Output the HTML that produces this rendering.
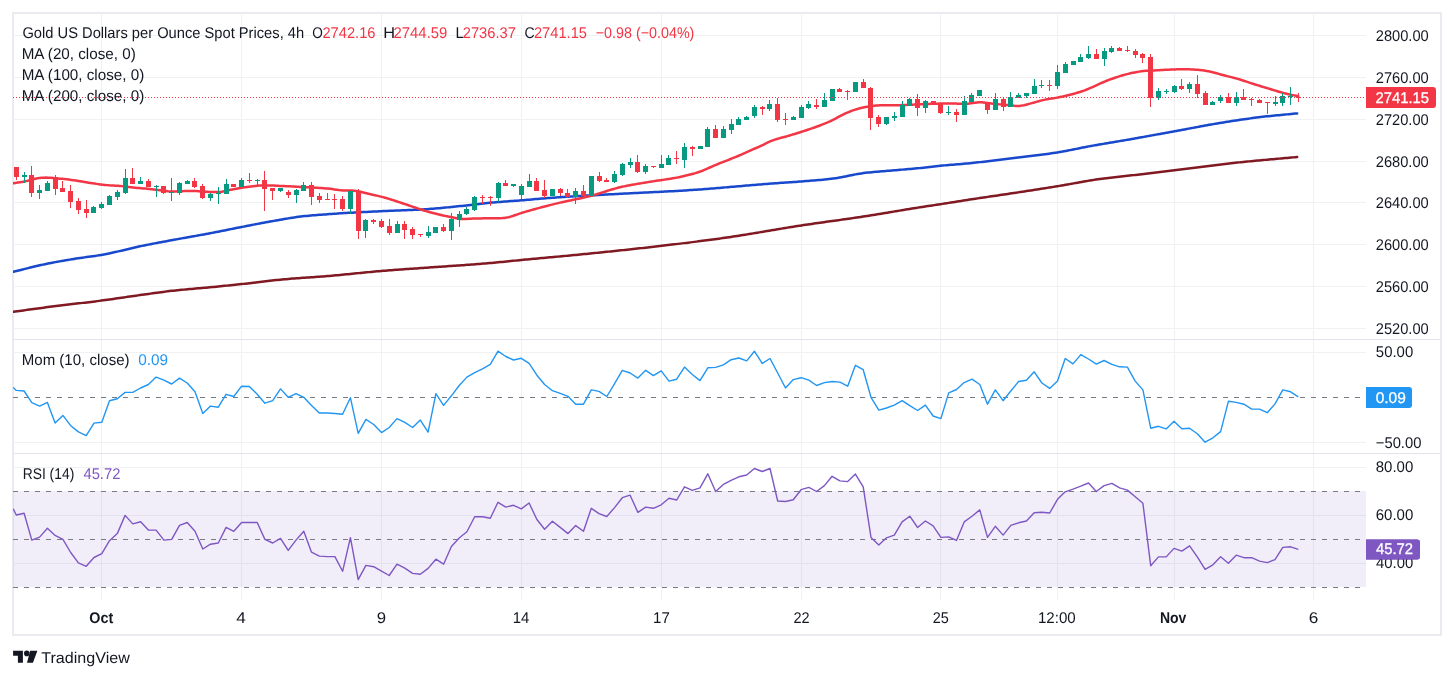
<!DOCTYPE html><html><head><meta charset="utf-8"><style>html,body{margin:0;padding:0;background:#fff;}svg{display:block;will-change:transform;}text{font-family:"Liberation Sans",sans-serif;text-rendering:geometricPrecision;}</style></head><body><svg width="1454" height="679" viewBox="0 0 1454 679"><rect x="0" y="0" width="1454" height="679" fill="#ffffff"/><rect x="13" y="13" width="1428" height="622" fill="none" stroke="#e9ebf0" stroke-width="2"/><g shape-rendering="crispEdges"><rect x="13" y="35" width="1353" height="1" fill="#eff1f3"/><rect x="13" y="77" width="1353" height="1" fill="#eff1f3"/><rect x="13" y="119" width="1353" height="1" fill="#eff1f3"/><rect x="13" y="161" width="1353" height="1" fill="#eff1f3"/><rect x="13" y="202" width="1353" height="1" fill="#eff1f3"/><rect x="13" y="244" width="1353" height="1" fill="#eff1f3"/><rect x="13" y="286" width="1353" height="1" fill="#eff1f3"/><rect x="13" y="328" width="1353" height="1" fill="#eff1f3"/><rect x="13" y="352" width="1353" height="1" fill="#eff1f3"/><rect x="13" y="442" width="1353" height="1" fill="#eff1f3"/><rect x="13" y="467" width="1353" height="1" fill="#eff1f3"/><rect x="13" y="515" width="1353" height="1" fill="#eff1f3"/><rect x="13" y="563" width="1353" height="1" fill="#eff1f3"/><rect x="101" y="14" width="1" height="586" fill="#eff1f3"/><rect x="241" y="14" width="1" height="586" fill="#eff1f3"/><rect x="381" y="14" width="1" height="586" fill="#eff1f3"/><rect x="521" y="14" width="1" height="586" fill="#eff1f3"/><rect x="661" y="14" width="1" height="586" fill="#eff1f3"/><rect x="801" y="14" width="1" height="586" fill="#eff1f3"/><rect x="940" y="14" width="1" height="586" fill="#eff1f3"/><rect x="1057" y="14" width="1" height="586" fill="#eff1f3"/><rect x="1174" y="14" width="1" height="586" fill="#eff1f3"/><rect x="1313" y="14" width="1" height="586" fill="#eff1f3"/></g><rect x="13" y="491" width="1353" height="96" fill="#7e57c2" fill-opacity="0.1"/><rect x="14" y="339" width="1426" height="1" fill="#e0e3eb"/><rect x="14" y="453" width="1426" height="1" fill="#e0e3eb"/><g shape-rendering="crispEdges"><line x1="13" y1="397.5" x2="1366" y2="397.5" stroke="#787b86" stroke-width="1" stroke-dasharray="5 6"/><line x1="13" y1="491.5" x2="1366" y2="491.5" stroke="#787b86" stroke-width="1" stroke-dasharray="5 6"/><line x1="13" y1="539.5" x2="1366" y2="539.5" stroke="#787b86" stroke-width="1" stroke-dasharray="5 6"/><line x1="13" y1="587.5" x2="1366" y2="587.5" stroke="#787b86" stroke-width="1" stroke-dasharray="5 6"/></g><defs><clipPath id="cm"><rect x="13" y="14" width="1353" height="325"/></clipPath><clipPath id="c2"><rect x="13" y="340" width="1353" height="113"/></clipPath><clipPath id="c3"><rect x="13" y="454" width="1353" height="146"/></clipPath></defs><g clip-path="url(#cm)" fill="none" stroke-linejoin="round" stroke-linecap="round"><path d="M13.30,311.80 L15.34,311.52 L17.37,311.25 L19.41,310.97 L21.44,310.69 L23.48,310.41 L25.51,310.13 L27.55,309.85 L29.58,309.57 L31.62,309.29 L33.65,309.02 L35.69,308.74 L37.72,308.46 L39.76,308.18 L41.79,307.91 L43.83,307.64 L45.86,307.36 L47.89,307.10 L49.93,306.83 L51.97,306.56 L54.00,306.30 L56.06,306.04 L58.11,305.78 L60.17,305.53 L62.23,305.28 L64.28,305.03 L66.34,304.79 L68.40,304.55 L70.45,304.31 L72.51,304.07 L74.57,303.83 L76.62,303.59 L78.68,303.35 L80.73,303.12 L82.79,302.88 L84.85,302.64 L86.90,302.39 L88.96,302.15 L91.02,301.90 L93.07,301.65 L95.13,301.39 L97.19,301.13 L99.24,300.87 L101.30,300.60 L103.33,300.33 L105.37,300.05 L107.41,299.77 L109.44,299.49 L111.47,299.20 L113.51,298.91 L115.55,298.61 L117.58,298.32 L119.61,298.02 L121.65,297.73 L123.69,297.43 L125.72,297.13 L127.75,296.83 L129.79,296.54 L131.82,296.24 L133.86,295.95 L135.89,295.66 L137.93,295.37 L139.97,295.08 L142.00,294.80 L144.12,294.51 L146.25,294.21 L148.37,293.92 L150.49,293.62 L152.62,293.33 L154.74,293.03 L156.86,292.74 L158.98,292.45 L161.11,292.17 L163.23,291.89 L165.35,291.62 L167.48,291.36 L169.60,291.10 L171.62,290.86 L173.64,290.64 L175.65,290.42 L177.67,290.21 L179.69,290.01 L181.71,289.81 L183.73,289.62 L185.75,289.43 L187.76,289.25 L189.78,289.07 L191.80,288.89 L193.82,288.71 L195.84,288.54 L197.85,288.37 L199.87,288.19 L201.89,288.02 L203.91,287.84 L205.93,287.66 L207.95,287.48 L209.96,287.29 L211.98,287.10 L214.00,286.90 L216.12,286.69 L218.23,286.48 L220.35,286.27 L222.46,286.06 L224.58,285.85 L226.69,285.63 L228.81,285.42 L230.92,285.20 L233.04,284.99 L235.15,284.77 L237.27,284.55 L239.38,284.33 L241.50,284.10 L243.53,283.88 L245.55,283.65 L247.58,283.42 L249.61,283.19 L251.63,282.95 L253.66,282.71 L255.68,282.47 L257.71,282.22 L259.74,281.98 L261.76,281.73 L263.79,281.49 L265.82,281.25 L267.84,281.01 L269.87,280.78 L271.89,280.55 L273.92,280.33 L275.95,280.11 L277.97,279.90 L280.00,279.70 L282.07,279.50 L284.13,279.31 L286.20,279.13 L288.27,278.96 L290.33,278.79 L292.40,278.62 L294.47,278.46 L296.53,278.31 L298.60,278.16 L300.67,278.01 L302.73,277.87 L304.80,277.72 L306.87,277.58 L308.93,277.44 L311.00,277.30 L313.07,277.15 L315.13,277.01 L317.20,276.86 L319.27,276.71 L321.33,276.56 L323.40,276.40 L325.47,276.24 L327.53,276.07 L329.60,275.90 L331.66,275.72 L333.73,275.54 L335.79,275.35 L337.86,275.16 L339.92,274.96 L341.98,274.77 L344.05,274.57 L346.11,274.36 L348.18,274.16 L350.24,273.95 L352.30,273.75 L354.37,273.54 L356.43,273.33 L358.50,273.13 L360.56,272.92 L362.62,272.72 L364.69,272.52 L366.75,272.31 L368.82,272.12 L370.88,271.92 L372.94,271.73 L375.01,271.54 L377.07,271.36 L379.14,271.18 L381.20,271.00 L383.28,270.83 L385.36,270.66 L387.43,270.49 L389.51,270.33 L391.59,270.17 L393.67,270.02 L395.75,269.86 L397.83,269.71 L399.90,269.56 L401.98,269.41 L404.06,269.26 L406.14,269.11 L408.22,268.97 L410.30,268.82 L412.37,268.68 L414.45,268.53 L416.53,268.39 L418.61,268.24 L420.69,268.09 L422.77,267.95 L424.84,267.80 L426.92,267.65 L429.00,267.50 L431.02,267.35 L433.04,267.21 L435.06,267.07 L437.08,266.93 L439.10,266.79 L441.12,266.65 L443.14,266.51 L445.16,266.38 L447.18,266.24 L449.20,266.10 L451.22,265.97 L453.24,265.83 L455.26,265.70 L457.28,265.56 L459.30,265.42 L461.32,265.28 L463.34,265.14 L465.36,265.00 L467.38,264.86 L469.40,264.71 L471.42,264.56 L473.44,264.41 L475.46,264.26 L477.48,264.11 L479.50,263.95 L481.52,263.79 L483.54,263.62 L485.56,263.45 L487.58,263.28 L489.60,263.10 L491.72,262.91 L493.84,262.71 L495.96,262.51 L498.08,262.31 L500.20,262.10 L502.32,261.89 L504.44,261.68 L506.56,261.47 L508.68,261.26 L510.80,261.05 L512.92,260.83 L515.04,260.62 L517.16,260.41 L519.28,260.21 L521.40,260.00 L523.42,259.81 L525.44,259.61 L527.46,259.42 L529.49,259.23 L531.51,259.04 L533.53,258.86 L535.55,258.67 L537.57,258.48 L539.59,258.30 L541.61,258.11 L543.64,257.92 L545.66,257.74 L547.68,257.55 L549.70,257.37 L551.72,257.18 L553.74,257.00 L555.76,256.81 L557.79,256.62 L559.81,256.43 L561.83,256.25 L563.85,256.06 L565.87,255.87 L567.89,255.68 L569.91,255.48 L571.94,255.29 L573.96,255.10 L575.98,254.90 L578.00,254.70 L580.05,254.50 L582.09,254.30 L584.14,254.09 L586.18,253.89 L588.23,253.69 L590.27,253.48 L592.32,253.28 L594.37,253.07 L596.41,252.87 L598.46,252.66 L600.50,252.46 L602.55,252.25 L604.59,252.04 L606.64,251.83 L608.69,251.62 L610.73,251.41 L612.78,251.20 L614.82,250.99 L616.87,250.77 L618.91,250.56 L620.96,250.34 L623.01,250.13 L625.05,249.91 L627.10,249.69 L629.14,249.47 L631.19,249.25 L633.23,249.03 L635.28,248.80 L637.33,248.58 L639.37,248.35 L641.42,248.13 L643.46,247.90 L645.51,247.67 L647.55,247.43 L649.60,247.20 L651.64,246.97 L653.67,246.73 L655.71,246.50 L657.75,246.26 L659.78,246.03 L661.82,245.79 L663.86,245.55 L665.89,245.32 L667.93,245.08 L669.97,244.84 L672.01,244.60 L674.04,244.36 L676.08,244.12 L678.12,243.87 L680.15,243.63 L682.19,243.38 L684.23,243.13 L686.26,242.89 L688.30,242.64 L690.34,242.38 L692.37,242.13 L694.41,241.87 L696.45,241.62 L698.48,241.36 L700.52,241.10 L702.56,240.83 L704.59,240.57 L706.63,240.30 L708.67,240.03 L710.71,239.76 L712.74,239.49 L714.78,239.21 L716.82,238.93 L718.85,238.65 L720.89,238.37 L722.93,238.08 L724.96,237.79 L727.00,237.50 L729.02,237.21 L731.03,236.91 L733.05,236.61 L735.06,236.30 L737.08,235.99 L739.10,235.67 L741.11,235.36 L743.13,235.04 L745.15,234.71 L747.16,234.38 L749.18,234.05 L751.19,233.72 L753.21,233.39 L755.23,233.05 L757.24,232.71 L759.26,232.38 L761.28,232.04 L763.29,231.70 L765.31,231.35 L767.32,231.01 L769.34,230.67 L771.36,230.33 L773.37,229.99 L775.39,229.65 L777.41,229.31 L779.42,228.97 L781.44,228.63 L783.45,228.30 L785.47,227.97 L787.49,227.63 L789.50,227.31 L791.52,226.98 L793.54,226.66 L795.55,226.34 L797.57,226.02 L799.58,225.71 L801.60,225.40 L803.65,225.09 L805.69,224.78 L807.74,224.48 L809.78,224.18 L811.83,223.89 L813.87,223.59 L815.92,223.30 L817.96,223.01 L820.01,222.72 L822.05,222.43 L824.10,222.15 L826.14,221.86 L828.19,221.58 L830.23,221.29 L832.28,221.01 L834.32,220.73 L836.37,220.44 L838.41,220.16 L840.46,219.87 L842.50,219.59 L844.55,219.30 L846.59,219.01 L848.64,218.72 L850.68,218.43 L852.73,218.13 L854.77,217.83 L856.82,217.53 L858.86,217.23 L860.91,216.92 L862.95,216.61 L865.00,216.30 L867.04,215.98 L869.07,215.66 L871.11,215.34 L873.15,215.01 L875.19,214.68 L877.22,214.35 L879.26,214.02 L881.30,213.68 L883.33,213.34 L885.37,213.00 L887.41,212.66 L889.44,212.32 L891.48,211.98 L893.52,211.63 L895.56,211.29 L897.59,210.95 L899.63,210.61 L901.67,210.27 L903.70,209.93 L905.74,209.59 L907.78,209.26 L909.81,208.92 L911.85,208.59 L913.89,208.26 L915.93,207.94 L917.96,207.62 L920.00,207.30 L922.04,206.99 L924.08,206.67 L926.12,206.36 L928.16,206.06 L930.20,205.75 L932.24,205.44 L934.28,205.13 L936.32,204.82 L938.36,204.51 L940.40,204.20 L942.49,203.88 L944.57,203.55 L946.66,203.22 L948.74,202.89 L950.83,202.56 L952.91,202.23 L955.00,201.90 L957.09,201.57 L959.17,201.24 L961.26,200.90 L963.34,200.58 L965.43,200.25 L967.51,199.92 L969.60,199.60 L971.62,199.29 L973.64,198.98 L975.65,198.68 L977.67,198.38 L979.69,198.07 L981.71,197.77 L983.73,197.48 L985.75,197.18 L987.76,196.88 L989.78,196.59 L991.80,196.29 L993.82,196.00 L995.84,195.70 L997.85,195.41 L999.87,195.11 L1001.89,194.81 L1003.91,194.51 L1005.93,194.21 L1007.95,193.91 L1009.96,193.61 L1011.98,193.31 L1014.00,193.00 L1016.07,192.68 L1018.14,192.37 L1020.21,192.05 L1022.29,191.73 L1024.36,191.42 L1026.43,191.10 L1028.50,190.78 L1030.57,190.46 L1032.64,190.14 L1034.71,189.81 L1036.79,189.49 L1038.86,189.17 L1040.93,188.84 L1043.00,188.52 L1045.07,188.19 L1047.14,187.86 L1049.21,187.53 L1051.29,187.20 L1053.36,186.87 L1055.43,186.54 L1057.50,186.20 L1059.52,185.87 L1061.55,185.53 L1063.57,185.18 L1065.59,184.83 L1067.61,184.47 L1069.64,184.11 L1071.66,183.75 L1073.68,183.38 L1075.70,183.02 L1077.73,182.65 L1079.75,182.29 L1081.77,181.93 L1083.80,181.57 L1085.82,181.22 L1087.84,180.88 L1089.86,180.54 L1091.89,180.21 L1093.91,179.88 L1095.93,179.57 L1097.95,179.27 L1099.98,178.98 L1102.00,178.70 L1104.12,178.42 L1106.25,178.16 L1108.37,177.91 L1110.49,177.66 L1112.62,177.43 L1114.74,177.20 L1116.86,176.97 L1118.98,176.75 L1121.11,176.53 L1123.23,176.30 L1125.35,176.07 L1127.48,175.84 L1129.60,175.60 L1131.64,175.36 L1133.67,175.13 L1135.71,174.89 L1137.75,174.65 L1139.78,174.40 L1141.82,174.16 L1143.85,173.92 L1145.89,173.67 L1147.93,173.43 L1149.96,173.18 L1152.00,172.93 L1154.04,172.68 L1156.07,172.43 L1158.11,172.19 L1160.15,171.94 L1162.18,171.69 L1164.22,171.44 L1166.25,171.19 L1168.29,170.94 L1170.33,170.69 L1172.36,170.45 L1174.40,170.20 L1176.43,169.95 L1178.45,169.71 L1180.48,169.46 L1182.51,169.20 L1184.53,168.95 L1186.56,168.70 L1188.59,168.44 L1190.61,168.19 L1192.64,167.93 L1194.67,167.68 L1196.69,167.42 L1198.72,167.16 L1200.75,166.91 L1202.77,166.65 L1204.80,166.40 L1206.83,166.15 L1208.85,165.89 L1210.88,165.64 L1212.91,165.39 L1214.93,165.14 L1216.96,164.90 L1218.99,164.65 L1221.01,164.41 L1223.04,164.17 L1225.07,163.94 L1227.09,163.70 L1229.12,163.47 L1231.15,163.24 L1233.17,163.02 L1235.20,162.80 L1237.20,162.59 L1239.20,162.38 L1241.20,162.17 L1243.20,161.97 L1245.20,161.76 L1247.20,161.57 L1249.20,161.37 L1251.20,161.18 L1253.20,160.99 L1255.20,160.80 L1257.20,160.61 L1259.20,160.43 L1261.20,160.24 L1263.20,160.06 L1265.20,159.88 L1267.20,159.70 L1269.20,159.52 L1271.20,159.34 L1273.20,159.16 L1275.20,158.99 L1277.20,158.81 L1279.20,158.63 L1281.20,158.45 L1283.20,158.27 L1285.20,158.10 L1287.20,157.92 L1289.20,157.74 L1291.20,157.55 L1293.20,157.37 L1295.20,157.19 L1297.20,157.00" stroke="#801922" stroke-width="2.5"/><path d="M13.30,271.80 L15.42,271.28 L17.54,270.76 L19.66,270.23 L21.79,269.69 L23.91,269.16 L26.03,268.62 L28.15,268.09 L30.27,267.57 L32.39,267.05 L34.51,266.53 L36.64,266.03 L38.76,265.54 L40.88,265.06 L43.00,264.60 L45.06,264.16 L47.12,263.74 L49.19,263.33 L51.25,262.92 L53.31,262.52 L55.38,262.14 L57.44,261.76 L59.50,261.39 L61.56,261.02 L63.62,260.66 L65.69,260.31 L67.75,259.96 L69.81,259.61 L71.88,259.27 L73.94,258.93 L76.00,258.60 L78.11,258.27 L80.22,257.96 L82.33,257.66 L84.43,257.38 L86.54,257.10 L88.65,256.82 L90.76,256.54 L92.87,256.24 L94.97,255.94 L97.08,255.62 L99.19,255.27 L101.30,254.90 L103.87,254.42 L106.43,253.91 L109.00,253.40 L111.06,252.98 L113.12,252.54 L115.19,252.08 L117.25,251.62 L119.31,251.14 L121.38,250.66 L123.44,250.17 L125.50,249.68 L127.56,249.19 L129.62,248.70 L131.69,248.21 L133.75,247.73 L135.81,247.25 L137.88,246.79 L139.94,246.34 L142.00,245.90 L144.12,245.46 L146.25,245.03 L148.37,244.61 L150.49,244.20 L152.62,243.79 L154.74,243.38 L156.86,242.98 L158.98,242.58 L161.11,242.19 L163.23,241.79 L165.35,241.40 L167.48,241.00 L169.60,240.60 L171.62,240.22 L173.64,239.85 L175.65,239.48 L177.67,239.11 L179.69,238.74 L181.71,238.38 L183.73,238.02 L185.75,237.66 L187.76,237.30 L189.78,236.94 L191.80,236.58 L193.82,236.22 L195.84,235.86 L197.85,235.49 L199.87,235.13 L201.89,234.76 L203.91,234.40 L205.93,234.02 L207.95,233.65 L209.96,233.27 L211.98,232.89 L214.00,232.50 L216.12,232.09 L218.23,231.67 L220.35,231.25 L222.46,230.83 L224.58,230.40 L226.69,229.97 L228.81,229.54 L230.92,229.11 L233.04,228.68 L235.15,228.26 L237.27,227.83 L239.38,227.41 L241.50,227.00 L243.53,226.61 L245.55,226.21 L247.58,225.82 L249.61,225.42 L251.63,225.03 L253.66,224.64 L255.68,224.25 L257.71,223.86 L259.74,223.48 L261.76,223.09 L263.79,222.71 L265.82,222.34 L267.84,221.96 L269.87,221.59 L271.89,221.22 L273.92,220.86 L275.95,220.50 L277.97,220.15 L280.00,219.80 L282.06,219.45 L284.12,219.09 L286.19,218.74 L288.25,218.39 L290.31,218.04 L292.38,217.71 L294.44,217.40 L296.50,217.10 L298.57,216.82 L300.64,216.56 L302.71,216.33 L304.77,216.10 L306.84,215.89 L308.91,215.70 L310.98,215.52 L313.05,215.34 L315.12,215.18 L317.19,215.02 L319.26,214.86 L321.33,214.71 L323.39,214.56 L325.46,214.41 L327.53,214.26 L329.60,214.10 L331.66,213.94 L333.73,213.79 L335.79,213.65 L337.86,213.51 L339.92,213.37 L341.98,213.24 L344.05,213.12 L346.11,212.99 L348.18,212.87 L350.24,212.76 L352.30,212.65 L354.37,212.53 L356.43,212.43 L358.50,212.32 L360.56,212.22 L362.62,212.11 L364.69,212.01 L366.75,211.91 L368.82,211.81 L370.88,211.71 L372.94,211.61 L375.01,211.51 L377.07,211.41 L379.14,211.30 L381.20,211.20 L383.28,211.10 L385.36,211.00 L387.43,210.91 L389.51,210.82 L391.59,210.74 L393.67,210.66 L395.75,210.58 L397.83,210.51 L399.90,210.43 L401.98,210.36 L404.06,210.28 L406.14,210.20 L408.22,210.12 L410.30,210.04 L412.37,209.95 L414.45,209.85 L416.53,209.76 L418.61,209.65 L420.69,209.54 L422.77,209.42 L424.84,209.29 L426.92,209.15 L429.00,209.00 L431.06,208.84 L433.12,208.68 L435.19,208.51 L437.25,208.33 L439.31,208.15 L441.38,207.96 L443.44,207.77 L445.50,207.57 L447.56,207.37 L449.62,207.17 L451.69,206.96 L453.75,206.75 L455.81,206.54 L457.88,206.33 L459.94,206.11 L462.00,205.90 L464.12,205.67 L466.25,205.44 L468.37,205.20 L470.49,204.95 L472.62,204.70 L474.74,204.45 L476.86,204.20 L478.98,203.95 L481.11,203.71 L483.23,203.47 L485.35,203.23 L487.48,203.01 L489.60,202.80 L491.72,202.60 L493.84,202.41 L495.96,202.23 L498.08,202.05 L500.20,201.88 L502.32,201.72 L504.44,201.56 L506.56,201.40 L508.68,201.25 L510.80,201.10 L512.92,200.94 L515.04,200.79 L517.16,200.63 L519.28,200.47 L521.40,200.30 L523.44,200.14 L525.47,199.97 L527.51,199.80 L529.54,199.63 L531.58,199.46 L533.61,199.29 L535.65,199.12 L537.68,198.95 L539.72,198.78 L541.75,198.61 L543.79,198.44 L545.82,198.27 L547.86,198.11 L549.89,197.95 L551.93,197.80 L553.96,197.65 L556.00,197.50 L558.06,197.36 L560.12,197.22 L562.19,197.08 L564.25,196.95 L566.31,196.82 L568.38,196.69 L570.44,196.57 L572.50,196.45 L574.56,196.33 L576.62,196.21 L578.69,196.09 L580.75,195.97 L582.81,195.85 L584.88,195.74 L586.94,195.62 L589.00,195.50 L591.06,195.38 L593.12,195.26 L595.19,195.15 L597.25,195.03 L599.31,194.92 L601.38,194.80 L603.44,194.69 L605.50,194.58 L607.56,194.47 L609.62,194.35 L611.69,194.24 L613.75,194.13 L615.81,194.02 L617.88,193.92 L619.94,193.81 L622.00,193.70 L624.00,193.60 L626.00,193.49 L628.00,193.39 L630.00,193.29 L632.00,193.19 L634.00,193.09 L636.00,192.99 L638.00,192.90 L640.00,192.80 L642.00,192.70 L644.00,192.60 L646.00,192.50 L648.00,192.40 L650.00,192.30 L652.12,192.19 L654.23,192.09 L656.35,191.99 L658.46,191.88 L660.58,191.78 L662.69,191.68 L664.81,191.57 L666.92,191.47 L669.04,191.36 L671.15,191.25 L673.27,191.14 L675.38,191.02 L677.50,190.90 L679.62,190.78 L681.73,190.65 L683.85,190.52 L685.96,190.39 L688.08,190.26 L690.19,190.12 L692.31,189.99 L694.42,189.85 L696.54,189.70 L698.65,189.56 L700.77,189.41 L702.88,189.26 L705.00,189.10 L707.06,188.94 L709.12,188.78 L711.19,188.62 L713.25,188.45 L715.31,188.27 L717.38,188.10 L719.44,187.92 L721.50,187.74 L723.56,187.56 L725.62,187.37 L727.69,187.19 L729.75,187.01 L731.81,186.83 L733.88,186.65 L735.94,186.47 L738.00,186.30 L740.06,186.13 L742.12,185.96 L744.19,185.78 L746.25,185.61 L748.31,185.44 L750.38,185.27 L752.44,185.09 L754.50,184.92 L756.56,184.75 L758.62,184.58 L760.69,184.42 L762.75,184.25 L764.81,184.08 L766.88,183.92 L768.94,183.76 L771.00,183.60 L773.04,183.45 L775.08,183.30 L777.12,183.15 L779.16,183.01 L781.20,182.87 L783.24,182.73 L785.28,182.60 L787.32,182.46 L789.36,182.32 L791.40,182.18 L793.44,182.03 L795.48,181.88 L797.52,181.73 L799.56,181.57 L801.60,181.40 L803.71,181.23 L805.82,181.06 L807.94,180.90 L810.05,180.73 L812.16,180.57 L814.27,180.41 L816.38,180.24 L818.49,180.06 L820.61,179.88 L822.72,179.69 L824.83,179.48 L826.94,179.26 L829.05,179.03 L831.16,178.78 L833.28,178.51 L835.39,178.22 L837.50,177.90 L839.50,177.57 L841.50,177.21 L843.50,176.83 L845.50,176.42 L847.50,176.01 L849.50,175.59 L851.50,175.18 L853.50,174.78 L855.50,174.39 L857.50,174.03 L859.50,173.70 L861.53,173.40 L863.55,173.11 L865.58,172.85 L867.61,172.61 L869.63,172.39 L871.66,172.18 L873.68,171.99 L875.71,171.80 L877.74,171.63 L879.76,171.46 L881.79,171.30 L883.82,171.15 L885.84,170.99 L887.87,170.84 L889.89,170.68 L891.92,170.52 L893.95,170.36 L895.97,170.18 L898.00,170.00 L900.12,169.81 L902.23,169.62 L904.35,169.43 L906.46,169.25 L908.58,169.07 L910.69,168.89 L912.81,168.70 L914.92,168.52 L917.04,168.33 L919.15,168.13 L921.27,167.93 L923.38,167.72 L925.50,167.50 L927.63,167.27 L929.76,167.02 L931.89,166.77 L934.01,166.52 L936.14,166.27 L938.27,166.03 L940.40,165.80 L942.51,165.58 L944.63,165.38 L946.74,165.19 L948.86,165.00 L950.97,164.83 L953.09,164.65 L955.20,164.48 L957.31,164.31 L959.43,164.14 L961.54,163.97 L963.66,163.79 L965.77,163.60 L967.89,163.41 L970.00,163.20 L972.00,162.99 L974.00,162.78 L976.00,162.57 L978.00,162.34 L980.00,162.12 L982.00,161.89 L984.00,161.65 L986.00,161.41 L988.00,161.17 L990.00,160.92 L992.00,160.67 L994.00,160.42 L996.00,160.17 L998.00,159.92 L1000.00,159.67 L1002.00,159.41 L1004.00,159.16 L1006.00,158.90 L1008.00,158.65 L1010.00,158.40 L1012.00,158.15 L1014.00,157.90 L1016.07,157.65 L1018.14,157.40 L1020.21,157.16 L1022.29,156.92 L1024.36,156.68 L1026.43,156.44 L1028.50,156.20 L1030.57,155.97 L1032.64,155.73 L1034.71,155.49 L1036.79,155.24 L1038.86,154.99 L1040.93,154.74 L1043.00,154.48 L1045.07,154.21 L1047.14,153.93 L1049.21,153.65 L1051.29,153.35 L1053.36,153.05 L1055.43,152.73 L1057.50,152.40 L1059.59,152.05 L1061.69,151.69 L1063.78,151.31 L1065.88,150.92 L1067.97,150.52 L1070.06,150.11 L1072.16,149.70 L1074.25,149.28 L1076.34,148.86 L1078.44,148.44 L1080.53,148.02 L1082.62,147.60 L1084.72,147.19 L1086.81,146.78 L1088.91,146.39 L1091.00,146.00 L1093.03,145.63 L1095.06,145.27 L1097.09,144.92 L1099.13,144.56 L1101.16,144.21 L1103.19,143.87 L1105.22,143.52 L1107.25,143.18 L1109.28,142.84 L1111.32,142.50 L1113.35,142.16 L1115.38,141.82 L1117.41,141.48 L1119.44,141.14 L1121.47,140.80 L1123.51,140.45 L1125.54,140.11 L1127.57,139.75 L1129.60,139.40 L1131.64,139.04 L1133.67,138.68 L1135.71,138.32 L1137.75,137.96 L1139.78,137.59 L1141.82,137.23 L1143.85,136.86 L1145.89,136.49 L1147.93,136.12 L1149.96,135.75 L1152.00,135.38 L1154.04,135.01 L1156.07,134.64 L1158.11,134.27 L1160.15,133.90 L1162.18,133.52 L1164.22,133.15 L1166.25,132.78 L1168.29,132.41 L1170.33,132.04 L1172.36,131.67 L1174.40,131.30 L1176.45,130.93 L1178.49,130.55 L1180.54,130.17 L1182.58,129.79 L1184.63,129.41 L1186.68,129.03 L1188.72,128.64 L1190.77,128.26 L1192.81,127.87 L1194.86,127.49 L1196.90,127.11 L1198.95,126.72 L1201.00,126.34 L1203.04,125.96 L1205.09,125.59 L1207.13,125.21 L1209.18,124.85 L1211.22,124.48 L1213.27,124.12 L1215.32,123.76 L1217.36,123.41 L1219.41,123.07 L1221.45,122.73 L1223.50,122.40 L1225.56,122.07 L1227.63,121.74 L1229.69,121.42 L1231.76,121.10 L1233.82,120.78 L1235.89,120.46 L1237.95,120.15 L1240.02,119.84 L1242.08,119.54 L1244.15,119.24 L1246.21,118.95 L1248.28,118.66 L1250.34,118.38 L1252.41,118.10 L1254.47,117.83 L1256.54,117.56 L1258.60,117.30 L1260.63,117.05 L1262.66,116.81 L1264.69,116.58 L1266.73,116.36 L1268.76,116.15 L1270.79,115.94 L1272.82,115.73 L1274.85,115.53 L1276.88,115.34 L1278.92,115.14 L1280.95,114.95 L1282.98,114.76 L1285.01,114.57 L1287.04,114.38 L1289.07,114.19 L1291.11,114.00 L1293.14,113.80 L1295.17,113.60 L1297.20,113.40" stroke="#1848cc" stroke-width="2.5"/><path d="M13.30,183.30 L15.50,182.95 L17.70,182.61 L19.90,182.28 L22.10,181.93 L24.30,181.54 L26.50,181.10 L28.70,180.56 L30.90,179.94 L33.10,179.31 L35.30,178.74 L37.50,178.30 L39.62,178.00 L41.75,177.79 L43.88,177.65 L46.00,177.60 L48.38,177.67 L50.75,177.85 L53.12,178.08 L55.50,178.30 L57.70,178.48 L59.90,178.66 L62.10,178.85 L64.30,179.06 L66.50,179.30 L68.88,179.59 L71.25,179.91 L73.62,180.25 L76.00,180.60 L78.06,180.92 L80.12,181.25 L82.19,181.60 L84.25,181.96 L86.31,182.31 L88.38,182.66 L90.44,182.99 L92.50,183.30 L94.56,183.59 L96.62,183.88 L98.69,184.16 L100.75,184.43 L102.81,184.68 L104.88,184.91 L106.94,185.12 L109.00,185.30 L111.20,185.44 L113.40,185.54 L115.60,185.63 L117.80,185.74 L120.00,185.90 L122.20,186.13 L124.40,186.42 L126.60,186.72 L128.80,187.03 L131.00,187.30 L133.06,187.52 L135.12,187.71 L137.19,187.89 L139.25,188.06 L141.31,188.23 L143.38,188.41 L145.44,188.59 L147.50,188.80 L149.56,189.03 L151.62,189.28 L153.69,189.54 L155.75,189.80 L157.81,190.07 L159.88,190.32 L161.94,190.57 L164.00,190.80 L166.00,191.03 L168.00,191.26 L170.00,191.40 L172.00,191.45 L174.00,191.44 L176.00,191.40 L178.00,191.34 L180.00,191.25 L182.00,191.16 L184.00,191.06 L186.00,190.98 L188.00,190.92 L190.00,190.89 L192.00,190.90 L194.20,190.98 L196.40,191.12 L198.60,191.30 L200.80,191.47 L203.00,191.60 L205.06,191.71 L207.12,191.82 L209.19,191.92 L211.25,192.01 L213.31,192.08 L215.38,192.10 L217.44,192.08 L219.50,192.00 L221.70,191.76 L223.90,191.34 L226.10,190.81 L228.30,190.27 L230.50,189.80 L232.56,189.41 L234.62,189.03 L236.69,188.65 L238.75,188.29 L240.81,187.94 L242.88,187.60 L244.94,187.29 L247.00,187.00 L249.06,186.72 L251.12,186.45 L253.19,186.20 L255.25,185.96 L257.31,185.75 L259.38,185.59 L261.44,185.46 L263.50,185.40 L265.56,185.39 L267.62,185.41 L269.69,185.46 L271.75,185.54 L273.81,185.62 L275.88,185.72 L277.94,185.81 L280.00,185.90 L282.00,185.98 L284.00,186.07 L286.00,186.16 L288.00,186.26 L290.00,186.36 L292.00,186.46 L294.00,186.57 L296.00,186.68 L298.00,186.79 L300.00,186.89 L302.00,187.00 L304.20,187.12 L306.40,187.23 L308.60,187.35 L310.80,187.47 L313.00,187.60 L315.12,187.73 L317.25,187.85 L319.38,187.98 L321.50,188.11 L323.62,188.25 L325.75,188.41 L327.88,188.59 L330.00,188.80 L332.20,189.08 L334.40,189.42 L336.60,189.78 L338.80,190.11 L341.00,190.37 L343.20,190.50 L345.40,190.52 L347.60,190.49 L349.80,190.47 L352.00,190.50 L354.06,190.65 L356.12,190.93 L358.19,191.31 L360.25,191.77 L362.31,192.28 L364.38,192.81 L366.44,193.32 L368.50,193.80 L370.56,194.25 L372.62,194.70 L374.69,195.16 L376.75,195.64 L378.81,196.12 L380.88,196.63 L382.94,197.15 L385.00,197.70 L387.00,198.26 L389.00,198.86 L391.00,199.48 L393.00,200.12 L395.00,200.77 L397.00,201.44 L399.00,202.12 L401.00,202.80 L403.00,203.47 L405.00,204.14 L407.00,204.80 L409.00,205.46 L411.00,206.13 L413.00,206.81 L415.00,207.50 L417.00,208.18 L419.00,208.86 L421.00,209.53 L423.00,210.19 L425.00,210.82 L427.00,211.42 L429.00,212.00 L431.00,212.55 L433.00,213.07 L435.00,213.58 L437.00,214.07 L439.00,214.54 L441.00,215.00 L443.00,215.44 L445.00,215.87 L447.00,216.29 L449.00,216.70 L451.00,217.10 L453.20,217.58 L455.40,218.08 L457.60,218.55 L459.80,218.91 L462.00,219.10 L464.20,219.11 L466.40,219.02 L468.60,218.87 L470.80,218.72 L473.00,218.60 L475.07,218.53 L477.15,218.47 L479.23,218.43 L481.30,218.39 L483.38,218.35 L485.45,218.30 L487.53,218.26 L489.60,218.20 L491.71,218.17 L493.83,218.17 L495.94,218.19 L498.05,218.20 L500.16,218.18 L502.27,218.08 L504.39,217.90 L506.50,217.60 L508.56,217.17 L510.62,216.63 L512.69,216.00 L514.75,215.30 L516.81,214.58 L518.88,213.85 L520.94,213.15 L523.00,212.50 L525.06,211.89 L527.12,211.29 L529.19,210.70 L531.25,210.12 L533.31,209.54 L535.38,208.97 L537.44,208.40 L539.50,207.84 L541.56,207.29 L543.62,206.74 L545.69,206.20 L547.75,205.67 L549.81,205.14 L551.88,204.62 L553.94,204.11 L556.00,203.60 L558.06,203.10 L560.12,202.63 L562.19,202.16 L564.25,201.71 L566.31,201.27 L568.38,200.84 L570.44,200.41 L572.50,199.99 L574.56,199.56 L576.62,199.13 L578.69,198.69 L580.75,198.24 L582.81,197.78 L584.88,197.31 L586.94,196.81 L589.00,196.30 L591.06,195.76 L593.12,195.19 L595.19,194.60 L597.25,193.99 L599.31,193.36 L601.38,192.73 L603.44,192.09 L605.50,191.44 L607.56,190.80 L609.62,190.17 L611.69,189.55 L613.75,188.95 L615.81,188.37 L617.88,187.82 L619.94,187.29 L622.00,186.80 L624.00,186.36 L626.00,185.94 L628.00,185.54 L630.00,185.16 L632.00,184.79 L634.00,184.44 L636.00,184.11 L638.00,183.77 L640.00,183.45 L642.00,183.12 L644.00,182.80 L646.00,182.47 L648.00,182.14 L650.00,181.80 L652.06,181.45 L654.12,181.12 L656.19,180.81 L658.25,180.50 L660.31,180.21 L662.38,179.91 L664.44,179.62 L666.50,179.32 L668.56,179.01 L670.62,178.69 L672.69,178.35 L674.75,177.99 L676.81,177.61 L678.88,177.21 L680.94,176.77 L683.00,176.30 L685.06,175.81 L687.12,175.32 L689.19,174.81 L691.25,174.28 L693.31,173.72 L695.38,173.13 L697.44,172.49 L699.50,171.80 L701.56,171.04 L703.62,170.22 L705.69,169.34 L707.75,168.43 L709.81,167.51 L711.88,166.58 L713.94,165.68 L716.00,164.80 L718.00,163.98 L720.00,163.18 L722.00,162.39 L724.00,161.60 L726.00,160.82 L728.00,160.04 L730.00,159.25 L732.00,158.46 L734.00,157.66 L736.00,156.84 L738.00,156.00 L740.20,155.06 L742.40,154.10 L744.60,153.14 L746.80,152.16 L749.00,151.18 L751.20,150.20 L753.36,149.23 L755.52,148.26 L757.68,147.28 L759.84,146.30 L762.00,145.30 L764.17,144.26 L766.35,143.20 L768.53,142.16 L770.70,141.20 L772.79,140.38 L774.88,139.64 L776.97,138.98 L779.06,138.37 L781.14,137.80 L783.23,137.24 L785.32,136.69 L787.41,136.11 L789.50,135.50 L791.52,134.89 L793.53,134.28 L795.55,133.68 L797.57,133.07 L799.58,132.44 L801.60,131.80 L803.63,131.14 L805.66,130.47 L807.69,129.80 L809.72,129.12 L811.75,128.42 L813.78,127.71 L815.82,126.99 L817.85,126.25 L819.88,125.48 L821.91,124.70 L823.94,123.89 L825.97,123.06 L828.00,122.20 L830.00,121.30 L832.00,120.34 L834.00,119.33 L836.00,118.28 L838.00,117.22 L840.00,116.17 L842.00,115.13 L844.00,114.13 L846.00,113.18 L848.00,112.30 L850.00,111.50 L852.20,110.70 L854.40,109.94 L856.60,109.23 L858.80,108.58 L861.00,108.00 L863.20,107.49 L865.40,107.05 L867.60,106.66 L869.80,106.32 L872.00,106.00 L874.00,105.75 L876.00,105.57 L878.00,105.43 L880.00,105.34 L882.00,105.28 L884.00,105.25 L886.00,105.25 L888.00,105.25 L890.00,105.27 L892.00,105.28 L894.00,105.29 L896.00,105.29 L898.00,105.26 L900.00,105.20 L902.06,105.12 L904.12,105.04 L906.19,104.95 L908.25,104.86 L910.31,104.77 L912.38,104.68 L914.44,104.59 L916.50,104.50 L918.56,104.41 L920.62,104.32 L922.69,104.22 L924.75,104.13 L926.81,104.04 L928.88,103.95 L930.94,103.87 L933.00,103.80 L935.06,103.73 L937.12,103.66 L939.19,103.59 L941.25,103.53 L943.31,103.48 L945.38,103.44 L947.44,103.41 L949.50,103.40 L951.56,103.42 L953.62,103.48 L955.69,103.56 L957.75,103.65 L959.81,103.74 L961.88,103.80 L963.94,103.82 L966.00,103.80 L968.20,103.65 L970.40,103.36 L972.60,103.01 L974.80,102.67 L977.00,102.41 L979.20,102.30 L981.24,102.35 L983.29,102.51 L985.33,102.73 L987.37,103.01 L989.41,103.29 L991.46,103.57 L993.50,103.80 L995.56,104.00 L997.62,104.19 L999.69,104.38 L1001.75,104.57 L1003.81,104.75 L1005.88,104.93 L1007.94,105.11 L1010.00,105.30 L1012.57,105.59 L1015.13,105.88 L1017.70,106.00 L1019.74,105.89 L1021.79,105.61 L1023.83,105.21 L1025.87,104.72 L1027.91,104.18 L1029.96,103.62 L1032.00,103.10 L1034.20,102.53 L1036.40,101.91 L1038.60,101.27 L1040.80,100.66 L1043.00,100.10 L1045.12,99.64 L1047.25,99.24 L1049.38,98.89 L1051.50,98.56 L1053.62,98.23 L1055.75,97.89 L1057.88,97.52 L1060.00,97.10 L1062.00,96.67 L1064.00,96.22 L1066.00,95.76 L1068.00,95.28 L1070.00,94.78 L1072.00,94.27 L1074.00,93.73 L1076.00,93.16 L1078.00,92.57 L1080.00,91.95 L1082.00,91.30 L1084.12,90.56 L1086.23,89.75 L1088.35,88.88 L1090.46,87.97 L1092.58,87.03 L1094.69,86.07 L1096.81,85.10 L1098.92,84.13 L1101.04,83.17 L1103.15,82.24 L1105.27,81.34 L1107.38,80.49 L1109.50,79.70 L1111.56,78.96 L1113.62,78.24 L1115.69,77.53 L1117.75,76.84 L1119.81,76.18 L1121.88,75.55 L1123.94,74.96 L1126.00,74.40 L1128.20,73.85 L1130.40,73.33 L1132.60,72.84 L1134.80,72.40 L1137.00,71.99 L1139.20,71.62 L1141.40,71.30 L1143.60,71.04 L1145.80,70.83 L1148.00,70.68 L1150.20,70.57 L1152.40,70.47 L1154.60,70.39 L1156.80,70.30 L1159.00,70.20 L1161.00,70.09 L1163.00,69.98 L1165.00,69.87 L1167.00,69.76 L1169.00,69.65 L1171.00,69.56 L1173.00,69.47 L1175.00,69.40 L1177.00,69.35 L1179.00,69.31 L1181.00,69.30 L1183.06,69.30 L1185.12,69.31 L1187.19,69.32 L1189.25,69.36 L1191.31,69.42 L1193.38,69.51 L1195.44,69.63 L1197.50,69.80 L1199.72,70.02 L1201.94,70.27 L1204.16,70.57 L1206.38,70.91 L1208.60,71.30 L1210.61,71.72 L1212.63,72.21 L1214.64,72.75 L1216.66,73.31 L1218.67,73.89 L1220.69,74.46 L1222.70,75.00 L1224.86,75.55 L1227.01,76.09 L1229.17,76.63 L1231.33,77.16 L1233.49,77.72 L1235.64,78.29 L1237.80,78.90 L1239.97,79.55 L1242.14,80.24 L1244.31,80.94 L1246.49,81.67 L1248.66,82.39 L1250.83,83.10 L1253.00,83.80 L1255.14,84.47 L1257.29,85.14 L1259.43,85.80 L1261.57,86.45 L1263.71,87.10 L1265.86,87.75 L1268.00,88.40 L1270.17,89.06 L1272.34,89.73 L1274.51,90.40 L1276.69,91.06 L1278.86,91.70 L1281.03,92.32 L1283.20,92.90 L1285.36,93.44 L1287.51,93.95 L1289.67,94.43 L1291.83,94.90 L1293.99,95.36 L1296.14,95.82 L1298.30,96.30" stroke="#f23645" stroke-width="2.5"/></g><g clip-path="url(#cm)" shape-rendering="crispEdges"><rect x="16" y="167" width="1" height="13" fill="#f23645"/><rect x="14" y="167" width="5" height="10" fill="#f23645"/><rect x="24" y="172" width="1" height="11" fill="#089981"/><rect x="22" y="175" width="5" height="2" fill="#089981"/><rect x="31" y="166" width="1" height="31" fill="#f23645"/><rect x="29" y="175" width="5" height="18" fill="#f23645"/><rect x="39" y="185" width="1" height="14" fill="#089981"/><rect x="37" y="190" width="5" height="3" fill="#089981"/><rect x="47" y="181" width="1" height="10" fill="#089981"/><rect x="45" y="183" width="5" height="8" fill="#089981"/><rect x="55" y="175" width="1" height="20" fill="#f23645"/><rect x="53" y="177" width="5" height="12" fill="#f23645"/><rect x="62" y="181" width="1" height="11" fill="#f23645"/><rect x="60" y="188" width="5" height="4" fill="#f23645"/><rect x="70" y="185" width="1" height="23" fill="#f23645"/><rect x="68" y="191" width="5" height="11" fill="#f23645"/><rect x="78" y="198" width="1" height="16" fill="#f23645"/><rect x="76" y="201" width="5" height="9" fill="#f23645"/><rect x="86" y="200" width="1" height="18" fill="#f23645"/><rect x="84" y="209" width="5" height="4" fill="#f23645"/><rect x="93" y="206" width="1" height="7" fill="#089981"/><rect x="91" y="207" width="5" height="6" fill="#089981"/><rect x="101" y="202" width="1" height="7" fill="#089981"/><rect x="99" y="204" width="5" height="4" fill="#089981"/><rect x="109" y="195" width="1" height="10" fill="#089981"/><rect x="107" y="196" width="5" height="9" fill="#089981"/><rect x="117" y="190" width="1" height="10" fill="#089981"/><rect x="115" y="192" width="5" height="5" fill="#089981"/><rect x="125" y="169" width="1" height="25" fill="#089981"/><rect x="123" y="178" width="5" height="15" fill="#089981"/><rect x="132" y="168" width="1" height="16" fill="#f23645"/><rect x="130" y="178" width="5" height="6" fill="#f23645"/><rect x="140" y="177" width="1" height="7" fill="#089981"/><rect x="138" y="181" width="5" height="3" fill="#089981"/><rect x="148" y="179" width="1" height="8" fill="#f23645"/><rect x="146" y="181" width="5" height="6" fill="#f23645"/><rect x="156" y="185" width="1" height="12" fill="#089981"/><rect x="154" y="186" width="5" height="1" fill="#089981"/><rect x="163" y="186" width="1" height="8" fill="#f23645"/><rect x="161" y="186" width="5" height="7" fill="#f23645"/><rect x="171" y="178" width="1" height="23" fill="#089981"/><rect x="169" y="192" width="5" height="1" fill="#089981"/><rect x="179" y="182" width="1" height="13" fill="#089981"/><rect x="177" y="183" width="5" height="10" fill="#089981"/><rect x="187" y="180" width="1" height="4" fill="#089981"/><rect x="185" y="181" width="5" height="3" fill="#089981"/><rect x="194" y="178" width="1" height="10" fill="#f23645"/><rect x="192" y="181" width="5" height="6" fill="#f23645"/><rect x="202" y="184" width="1" height="15" fill="#f23645"/><rect x="200" y="186" width="5" height="12" fill="#f23645"/><rect x="210" y="193" width="1" height="8" fill="#089981"/><rect x="208" y="194" width="5" height="4" fill="#089981"/><rect x="218" y="187" width="1" height="17" fill="#089981"/><rect x="216" y="193" width="5" height="1" fill="#089981"/><rect x="226" y="179" width="1" height="15" fill="#089981"/><rect x="224" y="184" width="5" height="10" fill="#089981"/><rect x="233" y="184" width="1" height="3" fill="#f23645"/><rect x="231" y="184" width="5" height="3" fill="#f23645"/><rect x="241" y="178" width="1" height="9" fill="#089981"/><rect x="239" y="180" width="5" height="7" fill="#089981"/><rect x="249" y="173" width="1" height="10" fill="#f23645"/><rect x="247" y="180" width="5" height="1" fill="#f23645"/><rect x="257" y="179" width="1" height="6" fill="#089981"/><rect x="255" y="180" width="5" height="1" fill="#089981"/><rect x="264" y="171" width="1" height="40" fill="#f23645"/><rect x="262" y="180" width="5" height="9" fill="#f23645"/><rect x="272" y="188" width="1" height="12" fill="#f23645"/><rect x="270" y="188" width="5" height="3" fill="#f23645"/><rect x="280" y="188" width="1" height="4" fill="#089981"/><rect x="278" y="188" width="5" height="3" fill="#089981"/><rect x="288" y="190" width="1" height="8" fill="#f23645"/><rect x="286" y="192" width="5" height="3" fill="#f23645"/><rect x="296" y="189" width="1" height="14" fill="#089981"/><rect x="294" y="190" width="5" height="5" fill="#089981"/><rect x="303" y="182" width="1" height="9" fill="#089981"/><rect x="301" y="185" width="5" height="6" fill="#089981"/><rect x="311" y="182" width="1" height="23" fill="#f23645"/><rect x="309" y="185" width="5" height="12" fill="#f23645"/><rect x="319" y="193" width="1" height="10" fill="#f23645"/><rect x="317" y="196" width="5" height="4" fill="#f23645"/><rect x="327" y="193" width="1" height="7" fill="#f23645"/><rect x="325" y="199" width="5" height="1" fill="#f23645"/><rect x="334" y="194" width="1" height="15" fill="#f23645"/><rect x="332" y="199" width="5" height="1" fill="#f23645"/><rect x="342" y="196" width="1" height="15" fill="#f23645"/><rect x="340" y="199" width="5" height="10" fill="#f23645"/><rect x="350" y="191" width="1" height="23" fill="#089981"/><rect x="348" y="191" width="5" height="18" fill="#089981"/><rect x="358" y="189" width="1" height="50" fill="#f23645"/><rect x="356" y="191" width="5" height="40" fill="#f23645"/><rect x="365" y="219" width="1" height="19" fill="#089981"/><rect x="363" y="220" width="5" height="11" fill="#089981"/><rect x="373" y="219" width="1" height="5" fill="#f23645"/><rect x="371" y="220" width="5" height="2" fill="#f23645"/><rect x="381" y="219" width="1" height="9" fill="#f23645"/><rect x="379" y="221" width="5" height="6" fill="#f23645"/><rect x="389" y="219" width="1" height="16" fill="#f23645"/><rect x="387" y="226" width="5" height="7" fill="#f23645"/><rect x="397" y="221" width="1" height="12" fill="#089981"/><rect x="395" y="224" width="5" height="9" fill="#089981"/><rect x="404" y="221" width="1" height="18" fill="#f23645"/><rect x="402" y="224" width="5" height="6" fill="#f23645"/><rect x="412" y="227" width="1" height="12" fill="#f23645"/><rect x="410" y="229" width="5" height="6" fill="#f23645"/><rect x="420" y="234" width="1" height="3" fill="#f23645"/><rect x="418" y="234" width="5" height="1" fill="#f23645"/><rect x="428" y="226" width="1" height="12" fill="#089981"/><rect x="426" y="232" width="5" height="4" fill="#089981"/><rect x="435" y="227" width="1" height="6" fill="#089981"/><rect x="433" y="227" width="5" height="6" fill="#089981"/><rect x="443" y="224" width="1" height="8" fill="#f23645"/><rect x="441" y="227" width="5" height="4" fill="#f23645"/><rect x="451" y="213" width="1" height="27" fill="#089981"/><rect x="449" y="219" width="5" height="12" fill="#089981"/><rect x="459" y="211" width="1" height="16" fill="#089981"/><rect x="457" y="214" width="5" height="6" fill="#089981"/><rect x="466" y="207" width="1" height="8" fill="#089981"/><rect x="464" y="209" width="5" height="5" fill="#089981"/><rect x="474" y="196" width="1" height="15" fill="#089981"/><rect x="472" y="197" width="5" height="13" fill="#089981"/><rect x="482" y="195" width="1" height="9" fill="#f23645"/><rect x="480" y="197" width="5" height="1" fill="#f23645"/><rect x="490" y="196" width="1" height="10" fill="#f23645"/><rect x="488" y="197" width="5" height="1" fill="#f23645"/><rect x="498" y="182" width="1" height="20" fill="#089981"/><rect x="496" y="183" width="5" height="15" fill="#089981"/><rect x="505" y="180" width="1" height="6" fill="#f23645"/><rect x="503" y="183" width="5" height="3" fill="#f23645"/><rect x="513" y="184" width="1" height="3" fill="#089981"/><rect x="511" y="184" width="5" height="2" fill="#089981"/><rect x="521" y="184" width="1" height="15" fill="#089981"/><rect x="519" y="186" width="5" height="9" fill="#089981"/><rect x="529" y="174" width="1" height="13" fill="#089981"/><rect x="527" y="181" width="5" height="6" fill="#089981"/><rect x="536" y="178" width="1" height="13" fill="#f23645"/><rect x="534" y="181" width="5" height="10" fill="#f23645"/><rect x="544" y="180" width="1" height="18" fill="#f23645"/><rect x="542" y="190" width="5" height="6" fill="#f23645"/><rect x="552" y="189" width="1" height="7" fill="#089981"/><rect x="550" y="189" width="5" height="7" fill="#089981"/><rect x="560" y="188" width="1" height="8" fill="#f23645"/><rect x="558" y="189" width="5" height="4" fill="#f23645"/><rect x="567" y="189" width="1" height="9" fill="#f23645"/><rect x="565" y="193" width="5" height="4" fill="#f23645"/><rect x="575" y="188" width="1" height="16" fill="#089981"/><rect x="573" y="191" width="5" height="6" fill="#089981"/><rect x="583" y="185" width="1" height="11" fill="#f23645"/><rect x="581" y="191" width="5" height="5" fill="#f23645"/><rect x="591" y="176" width="1" height="20" fill="#089981"/><rect x="589" y="176" width="5" height="20" fill="#089981"/><rect x="599" y="172" width="1" height="10" fill="#f23645"/><rect x="597" y="176" width="5" height="5" fill="#f23645"/><rect x="606" y="178" width="1" height="4" fill="#f23645"/><rect x="604" y="180" width="5" height="2" fill="#f23645"/><rect x="614" y="171" width="1" height="12" fill="#089981"/><rect x="612" y="174" width="5" height="8" fill="#089981"/><rect x="622" y="163" width="1" height="13" fill="#089981"/><rect x="620" y="164" width="5" height="11" fill="#089981"/><rect x="630" y="158" width="1" height="10" fill="#089981"/><rect x="628" y="162" width="5" height="3" fill="#089981"/><rect x="637" y="155" width="1" height="18" fill="#f23645"/><rect x="635" y="162" width="5" height="10" fill="#f23645"/><rect x="645" y="164" width="1" height="10" fill="#089981"/><rect x="643" y="166" width="5" height="6" fill="#089981"/><rect x="653" y="166" width="1" height="2" fill="#f23645"/><rect x="651" y="166" width="5" height="1" fill="#f23645"/><rect x="661" y="155" width="1" height="13" fill="#089981"/><rect x="659" y="164" width="5" height="4" fill="#089981"/><rect x="668" y="155" width="1" height="10" fill="#089981"/><rect x="666" y="158" width="5" height="7" fill="#089981"/><rect x="676" y="151" width="1" height="13" fill="#f23645"/><rect x="674" y="158" width="5" height="1" fill="#f23645"/><rect x="684" y="143" width="1" height="25" fill="#089981"/><rect x="682" y="147" width="5" height="13" fill="#089981"/><rect x="692" y="146" width="1" height="10" fill="#f23645"/><rect x="690" y="147" width="5" height="2" fill="#f23645"/><rect x="700" y="146" width="1" height="3" fill="#089981"/><rect x="698" y="146" width="5" height="3" fill="#089981"/><rect x="707" y="127" width="1" height="20" fill="#089981"/><rect x="705" y="129" width="5" height="18" fill="#089981"/><rect x="715" y="125" width="1" height="13" fill="#f23645"/><rect x="713" y="129" width="5" height="9" fill="#f23645"/><rect x="723" y="126" width="1" height="12" fill="#089981"/><rect x="721" y="129" width="5" height="9" fill="#089981"/><rect x="731" y="119" width="1" height="15" fill="#089981"/><rect x="729" y="124" width="5" height="6" fill="#089981"/><rect x="738" y="117" width="1" height="8" fill="#089981"/><rect x="736" y="119" width="5" height="6" fill="#089981"/><rect x="746" y="116" width="1" height="4" fill="#089981"/><rect x="744" y="117" width="5" height="3" fill="#089981"/><rect x="754" y="105" width="1" height="13" fill="#089981"/><rect x="752" y="107" width="5" height="9" fill="#089981"/><rect x="762" y="106" width="1" height="9" fill="#f23645"/><rect x="760" y="107" width="5" height="2" fill="#f23645"/><rect x="769" y="100" width="1" height="11" fill="#089981"/><rect x="767" y="104" width="5" height="5" fill="#089981"/><rect x="777" y="98" width="1" height="24" fill="#f23645"/><rect x="775" y="104" width="5" height="16" fill="#f23645"/><rect x="785" y="113" width="1" height="12" fill="#f23645"/><rect x="783" y="119" width="5" height="1" fill="#f23645"/><rect x="793" y="116" width="1" height="4" fill="#089981"/><rect x="791" y="117" width="5" height="3" fill="#089981"/><rect x="801" y="105" width="1" height="13" fill="#089981"/><rect x="799" y="107" width="5" height="11" fill="#089981"/><rect x="808" y="101" width="1" height="8" fill="#089981"/><rect x="806" y="104" width="5" height="4" fill="#089981"/><rect x="816" y="99" width="1" height="10" fill="#f23645"/><rect x="814" y="105" width="5" height="2" fill="#f23645"/><rect x="824" y="93" width="1" height="14" fill="#089981"/><rect x="822" y="100" width="5" height="7" fill="#089981"/><rect x="832" y="89" width="1" height="12" fill="#089981"/><rect x="830" y="89" width="5" height="12" fill="#089981"/><rect x="839" y="88" width="1" height="4" fill="#f23645"/><rect x="837" y="89" width="5" height="3" fill="#f23645"/><rect x="847" y="90" width="1" height="10" fill="#f23645"/><rect x="845" y="91" width="5" height="1" fill="#f23645"/><rect x="855" y="82" width="1" height="10" fill="#089981"/><rect x="853" y="82" width="5" height="10" fill="#089981"/><rect x="863" y="79" width="1" height="9" fill="#f23645"/><rect x="861" y="82" width="5" height="6" fill="#f23645"/><rect x="870" y="87" width="1" height="43" fill="#f23645"/><rect x="868" y="88" width="5" height="30" fill="#f23645"/><rect x="878" y="115" width="1" height="12" fill="#f23645"/><rect x="876" y="117" width="5" height="7" fill="#f23645"/><rect x="886" y="117" width="1" height="8" fill="#089981"/><rect x="884" y="117" width="5" height="7" fill="#089981"/><rect x="894" y="112" width="1" height="9" fill="#089981"/><rect x="892" y="116" width="5" height="2" fill="#089981"/><rect x="902" y="101" width="1" height="16" fill="#089981"/><rect x="900" y="105" width="5" height="12" fill="#089981"/><rect x="909" y="98" width="1" height="8" fill="#089981"/><rect x="907" y="99" width="5" height="7" fill="#089981"/><rect x="917" y="94" width="1" height="22" fill="#f23645"/><rect x="915" y="99" width="5" height="9" fill="#f23645"/><rect x="925" y="100" width="1" height="13" fill="#089981"/><rect x="923" y="101" width="5" height="7" fill="#089981"/><rect x="933" y="101" width="1" height="3" fill="#f23645"/><rect x="931" y="101" width="5" height="3" fill="#f23645"/><rect x="940" y="104" width="1" height="10" fill="#f23645"/><rect x="938" y="104" width="5" height="9" fill="#f23645"/><rect x="948" y="106" width="1" height="9" fill="#089981"/><rect x="946" y="112" width="5" height="1" fill="#089981"/><rect x="956" y="109" width="1" height="13" fill="#f23645"/><rect x="954" y="112" width="5" height="3" fill="#f23645"/><rect x="964" y="96" width="1" height="19" fill="#089981"/><rect x="962" y="101" width="5" height="14" fill="#089981"/><rect x="971" y="93" width="1" height="11" fill="#089981"/><rect x="969" y="95" width="5" height="7" fill="#089981"/><rect x="979" y="90" width="1" height="6" fill="#089981"/><rect x="977" y="90" width="5" height="6" fill="#089981"/><rect x="987" y="102" width="1" height="12" fill="#f23645"/><rect x="985" y="102" width="5" height="8" fill="#f23645"/><rect x="995" y="93" width="1" height="17" fill="#089981"/><rect x="993" y="99" width="5" height="11" fill="#089981"/><rect x="1003" y="98" width="1" height="13" fill="#f23645"/><rect x="1001" y="99" width="5" height="8" fill="#f23645"/><rect x="1010" y="92" width="1" height="15" fill="#089981"/><rect x="1008" y="97" width="5" height="10" fill="#089981"/><rect x="1018" y="93" width="1" height="5" fill="#089981"/><rect x="1016" y="95" width="5" height="3" fill="#089981"/><rect x="1026" y="93" width="1" height="5" fill="#089981"/><rect x="1024" y="93" width="5" height="3" fill="#089981"/><rect x="1034" y="79" width="1" height="15" fill="#089981"/><rect x="1032" y="86" width="5" height="8" fill="#089981"/><rect x="1041" y="80" width="1" height="8" fill="#089981"/><rect x="1039" y="85" width="5" height="1" fill="#089981"/><rect x="1049" y="80" width="1" height="11" fill="#f23645"/><rect x="1047" y="85" width="5" height="1" fill="#f23645"/><rect x="1057" y="65" width="1" height="24" fill="#089981"/><rect x="1055" y="72" width="5" height="14" fill="#089981"/><rect x="1065" y="62" width="1" height="11" fill="#089981"/><rect x="1063" y="64" width="5" height="9" fill="#089981"/><rect x="1073" y="61" width="1" height="4" fill="#089981"/><rect x="1071" y="61" width="5" height="4" fill="#089981"/><rect x="1080" y="54" width="1" height="8" fill="#089981"/><rect x="1078" y="57" width="5" height="5" fill="#089981"/><rect x="1088" y="46" width="1" height="13" fill="#089981"/><rect x="1086" y="54" width="5" height="4" fill="#089981"/><rect x="1096" y="49" width="1" height="10" fill="#f23645"/><rect x="1094" y="54" width="5" height="5" fill="#f23645"/><rect x="1104" y="48" width="1" height="18" fill="#089981"/><rect x="1102" y="51" width="5" height="8" fill="#089981"/><rect x="1111" y="46" width="1" height="7" fill="#089981"/><rect x="1109" y="48" width="5" height="4" fill="#089981"/><rect x="1119" y="47" width="1" height="4" fill="#f23645"/><rect x="1117" y="48" width="5" height="3" fill="#f23645"/><rect x="1127" y="46" width="1" height="6" fill="#f23645"/><rect x="1125" y="50" width="5" height="1" fill="#f23645"/><rect x="1135" y="49" width="1" height="9" fill="#f23645"/><rect x="1133" y="51" width="5" height="4" fill="#f23645"/><rect x="1142" y="53" width="1" height="10" fill="#f23645"/><rect x="1140" y="54" width="5" height="4" fill="#f23645"/><rect x="1150" y="54" width="1" height="53" fill="#f23645"/><rect x="1148" y="57" width="5" height="41" fill="#f23645"/><rect x="1158" y="88" width="1" height="12" fill="#089981"/><rect x="1156" y="91" width="5" height="7" fill="#089981"/><rect x="1166" y="89" width="1" height="5" fill="#089981"/><rect x="1164" y="91" width="5" height="1" fill="#089981"/><rect x="1174" y="85" width="1" height="8" fill="#089981"/><rect x="1172" y="86" width="5" height="6" fill="#089981"/><rect x="1181" y="79" width="1" height="11" fill="#f23645"/><rect x="1179" y="86" width="5" height="3" fill="#f23645"/><rect x="1189" y="82" width="1" height="11" fill="#089981"/><rect x="1187" y="84" width="5" height="5" fill="#089981"/><rect x="1197" y="75" width="1" height="23" fill="#f23645"/><rect x="1195" y="84" width="5" height="10" fill="#f23645"/><rect x="1205" y="91" width="1" height="14" fill="#f23645"/><rect x="1203" y="93" width="5" height="12" fill="#f23645"/><rect x="1212" y="101" width="1" height="4" fill="#089981"/><rect x="1210" y="102" width="5" height="3" fill="#089981"/><rect x="1220" y="95" width="1" height="8" fill="#089981"/><rect x="1218" y="97" width="5" height="4" fill="#089981"/><rect x="1228" y="93" width="1" height="10" fill="#f23645"/><rect x="1226" y="97" width="5" height="6" fill="#f23645"/><rect x="1236" y="92" width="1" height="14" fill="#089981"/><rect x="1234" y="97" width="5" height="6" fill="#089981"/><rect x="1243" y="89" width="1" height="11" fill="#f23645"/><rect x="1241" y="97" width="5" height="3" fill="#f23645"/><rect x="1251" y="98" width="1" height="8" fill="#f23645"/><rect x="1249" y="99" width="5" height="1" fill="#f23645"/><rect x="1259" y="99" width="1" height="4" fill="#f23645"/><rect x="1257" y="100" width="5" height="3" fill="#f23645"/><rect x="1267" y="102" width="1" height="12" fill="#f23645"/><rect x="1265" y="102" width="5" height="1" fill="#f23645"/><rect x="1275" y="96" width="1" height="10" fill="#089981"/><rect x="1273" y="102" width="5" height="2" fill="#089981"/><rect x="1282" y="93" width="1" height="13" fill="#089981"/><rect x="1280" y="96" width="5" height="7" fill="#089981"/><rect x="1290" y="87" width="1" height="18" fill="#089981"/><rect x="1288" y="96" width="5" height="1" fill="#089981"/><rect x="1298" y="93" width="1" height="9" fill="#f23645"/><rect x="1296" y="97" width="5" height="1" fill="#f23645"/></g><g shape-rendering="crispEdges"><line x1="13" y1="97.5" x2="1366" y2="97.5" stroke="#f23645" stroke-width="1" stroke-dasharray="1 2"/></g><g clip-path="url(#c2)"><polyline points="13.2,387.4 16.3,390.4 24.1,391.0 31.8,402.7 39.6,406.1 47.4,402.4 55.1,423.1 62.9,415.4 70.7,425.7 78.4,431.9 86.2,435.6 94.0,423.1 101.8,422.3 109.5,400.7 117.3,398.8 125.1,392.4 132.8,392.4 140.6,388.0 148.4,384.5 156.1,377.1 163.9,380.1 171.7,384.0 179.5,378.1 187.2,383.0 195.0,391.8 202.8,413.5 210.5,406.1 218.3,407.2 226.1,394.3 233.8,396.5 241.6,386.2 249.4,386.5 257.2,394.3 264.9,403.2 272.7,400.7 280.5,388.9 288.2,397.3 296.0,393.6 303.8,397.3 311.5,405.4 319.3,413.0 327.1,413.0 334.9,413.5 342.6,414.2 350.4,397.7 358.2,433.4 365.9,419.4 373.7,424.5 381.5,432.6 389.2,427.5 397.0,418.6 404.8,422.3 412.6,427.5 420.3,420.1 428.1,432.2 435.9,393.6 443.6,405.4 451.4,395.8 459.2,385.5 466.9,377.1 474.7,372.7 482.5,368.9 490.3,364.4 498.0,351.2 505.8,356.5 513.6,360.0 521.3,358.3 529.1,363.4 536.9,375.2 544.6,384.5 552.4,390.7 560.2,393.3 568.0,396.3 575.7,404.2 583.5,404.2 591.3,389.9 599.0,391.4 606.8,396.5 614.6,383.6 622.3,370.3 630.1,373.0 637.9,378.1 645.7,370.3 653.4,375.6 661.2,370.8 669.0,381.1 676.7,379.2 684.5,367.1 692.3,374.5 700.0,380.6 707.8,367.8 715.6,367.4 723.4,364.9 731.1,359.7 738.9,358.0 746.7,360.9 754.4,351.2 762.2,363.4 770.0,358.5 777.7,373.0 785.5,388.0 793.3,379.6 801.1,377.7 808.8,380.1 816.6,385.5 824.4,382.6 832.1,381.5 839.9,382.1 847.7,386.2 855.4,365.3 863.2,369.7 871.0,397.3 878.8,410.1 886.5,408.0 894.3,405.1 902.1,400.7 909.8,405.7 917.6,410.5 925.4,405.1 933.1,416.0 940.9,418.6 948.7,392.9 956.5,389.5 964.2,382.6 972.0,379.2 979.8,384.5 987.5,404.2 995.3,389.9 1003.1,400.7 1010.8,391.0 1018.6,381.5 1026.4,380.3 1034.2,371.8 1041.9,383.0 1049.7,388.4 1057.5,381.1 1065.2,358.5 1073.0,363.9 1080.8,354.6 1088.5,359.0 1096.3,364.1 1104.1,360.5 1111.9,364.4 1119.6,366.8 1127.4,367.1 1135.2,381.1 1142.9,389.9 1150.7,428.2 1158.5,426.3 1166.2,428.9 1174.0,421.3 1181.8,428.7 1189.6,428.2 1197.3,433.7 1205.1,442.2 1212.9,437.8 1220.6,431.6 1228.4,401.3 1236.2,402.4 1243.9,404.2 1251.7,409.1 1259.5,409.1 1267.3,412.7 1275.0,403.9 1282.8,389.9 1290.6,391.8 1298.3,396.8" fill="none" stroke="#2196f3" stroke-width="1.4" stroke-linejoin="round"/></g><g clip-path="url(#c3)"><polyline points="13.2,508.9 16.3,515.0 24.1,513.3 31.8,540.1 39.6,537.1 47.4,528.3 55.1,535.4 62.9,539.3 70.7,552.5 78.4,562.8 86.2,566.3 94.0,557.5 101.8,553.6 109.5,540.7 117.3,533.6 125.1,515.4 132.8,523.9 140.6,521.8 148.4,530.1 156.1,530.1 163.9,540.1 171.7,539.4 179.5,525.3 187.2,522.5 195.0,531.3 202.8,549.0 210.5,544.2 218.3,543.0 226.1,527.4 233.8,531.3 241.6,522.5 249.4,522.5 257.2,522.5 264.9,539.4 272.7,543.0 280.5,538.4 288.2,550.4 296.0,540.1 303.8,531.3 311.5,552.2 319.3,556.1 327.1,556.6 334.9,556.6 342.6,571.3 350.4,537.7 358.2,579.6 365.9,565.4 373.7,566.7 381.5,571.1 389.2,575.5 397.0,564.2 404.8,568.1 412.6,573.4 420.3,574.3 428.1,568.4 435.9,559.2 443.6,564.2 451.4,546.5 459.2,538.0 466.9,531.8 474.7,516.8 482.5,516.8 490.3,518.2 498.0,502.3 505.8,507.1 513.6,505.3 521.3,508.9 529.1,503.0 536.9,519.5 544.6,529.2 552.4,521.2 560.2,527.4 568.0,533.6 575.7,525.6 583.5,531.3 591.3,508.3 599.0,513.6 606.8,516.5 614.6,507.6 622.3,497.7 630.1,495.2 637.9,512.4 645.7,507.1 653.4,508.3 661.2,504.8 669.0,498.2 676.7,500.0 684.5,486.8 692.3,490.3 700.0,487.9 707.8,473.8 715.6,491.5 723.4,484.4 731.1,480.3 738.9,476.8 746.7,475.0 754.4,468.5 762.2,471.5 770.0,468.5 777.7,501.0 785.5,501.5 793.3,499.8 801.1,489.7 808.8,487.4 816.6,491.5 824.4,485.6 832.1,476.3 839.9,480.9 847.7,481.6 855.4,474.1 863.2,486.9 871.0,537.4 878.8,544.9 886.5,537.8 894.3,535.1 902.1,521.9 909.8,516.2 917.6,527.5 925.4,521.0 933.1,525.8 940.9,537.4 948.7,536.9 956.5,540.4 964.2,521.9 972.0,516.2 979.8,509.9 987.5,537.4 995.3,526.3 1003.1,535.1 1010.8,525.4 1018.6,522.8 1026.4,521.0 1034.2,512.7 1041.9,512.2 1049.7,513.0 1057.5,499.3 1065.2,491.8 1073.0,489.2 1080.8,486.2 1088.5,483.0 1096.3,491.5 1104.1,485.6 1111.9,483.3 1119.6,487.9 1127.4,490.1 1135.2,496.8 1142.9,503.3 1150.7,565.7 1158.5,556.9 1166.2,556.9 1174.0,548.4 1181.8,551.1 1189.6,545.8 1197.3,556.9 1205.1,569.3 1212.9,564.8 1220.6,556.7 1228.4,563.3 1236.2,555.2 1243.9,557.7 1251.7,557.7 1259.5,561.1 1267.3,562.6 1275.0,559.6 1282.8,547.4 1290.6,546.8 1298.3,549.3" fill="none" stroke="#7e57c2" stroke-width="1.4" stroke-linejoin="round"/></g><path d="M1366 87 H1433 Q1436 87 1436 90 V105 Q1436 108 1433 108 H1366 Z" fill="#f23645"/><path d="M1366 387 H1409 Q1412 387 1412 390 V405 Q1412 408 1409 408 H1366 Z" fill="#2196f3"/><path d="M1366 539.5 H1417 Q1420 539.5 1420 542.5 V556.5 Q1420 559.5 1417 559.5 H1366 Z" fill="#7e57c2"/><text x="22.41" y="38" fill="#131722" font-size="15.5" textLength="281.74" lengthAdjust="spacingAndGlyphs">Gold US Dollars per Ounce Spot Prices, 4h</text><text x="312.22" y="38" fill="#131722" font-size="15.5" textLength="10.58" lengthAdjust="spacingAndGlyphs">O</text><text x="322.46" y="38" fill="#f23645" font-size="15.5" textLength="53.05" lengthAdjust="spacingAndGlyphs">2742.16</text><text x="383.25" y="38" fill="#131722" font-size="15.5" textLength="11.8" lengthAdjust="spacingAndGlyphs">H</text><text x="393.55" y="38" fill="#f23645" font-size="15.5" textLength="53.79" lengthAdjust="spacingAndGlyphs">2744.59</text><text x="455.56" y="38" fill="#131722" font-size="15.5" textLength="8.34" lengthAdjust="spacingAndGlyphs">L</text><text x="462.76" y="38" fill="#f23645" font-size="15.5" textLength="53.17" lengthAdjust="spacingAndGlyphs">2736.37</text><text x="524.55" y="38" fill="#131722" font-size="15.5" textLength="10.13" lengthAdjust="spacingAndGlyphs">C</text><text x="533.96" y="38" fill="#f23645" font-size="15.5" textLength="53.03" lengthAdjust="spacingAndGlyphs">2741.15</text><text x="595.72" y="38" fill="#f23645" font-size="15.5" textLength="98.66" lengthAdjust="spacingAndGlyphs">−0.98 (−0.04%)</text><text x="21.64" y="59" fill="#131722" font-size="15.5" textLength="114.13" lengthAdjust="spacingAndGlyphs">MA (20, close, 0)</text><text x="21.64" y="80" fill="#131722" font-size="15.5" textLength="122.66" lengthAdjust="spacingAndGlyphs">MA (100, close, 0)</text><text x="21.64" y="101" fill="#131722" font-size="15.5" textLength="122.66" lengthAdjust="spacingAndGlyphs">MA (200, close, 0)</text><text x="21.76" y="365" fill="#131722" font-size="15.5" textLength="107.78" lengthAdjust="spacingAndGlyphs">Mom (10, close)</text><text x="138.27" y="365" fill="#2196f3" font-size="15.5" textLength="29.84" lengthAdjust="spacingAndGlyphs">0.09</text><text x="22.66" y="479" fill="#131722" font-size="15.5" textLength="51.6" lengthAdjust="spacingAndGlyphs">RSI (14)</text><text x="83.46" y="479" fill="#7e57c2" font-size="15.5" textLength="36.9" lengthAdjust="spacingAndGlyphs">45.72</text><text x="1375.76" y="41" fill="#131722" font-size="15.5" textLength="52.97" lengthAdjust="spacingAndGlyphs">2800.00</text><text x="1375.76" y="83" fill="#131722" font-size="15.5" textLength="52.97" lengthAdjust="spacingAndGlyphs">2760.00</text><text x="1375.76" y="125" fill="#131722" font-size="15.5" textLength="52.97" lengthAdjust="spacingAndGlyphs">2720.00</text><text x="1375.76" y="167" fill="#131722" font-size="15.5" textLength="52.97" lengthAdjust="spacingAndGlyphs">2680.00</text><text x="1375.76" y="208" fill="#131722" font-size="15.5" textLength="52.97" lengthAdjust="spacingAndGlyphs">2640.00</text><text x="1375.76" y="250" fill="#131722" font-size="15.5" textLength="52.97" lengthAdjust="spacingAndGlyphs">2600.00</text><text x="1375.76" y="292" fill="#131722" font-size="15.5" textLength="52.97" lengthAdjust="spacingAndGlyphs">2560.00</text><text x="1375.76" y="334" fill="#131722" font-size="15.5" textLength="52.97" lengthAdjust="spacingAndGlyphs">2520.00</text><text x="1375.87" y="357" fill="#131722" font-size="15.5" textLength="37.37" lengthAdjust="spacingAndGlyphs">50.00</text><text x="1375.8" y="448" fill="#131722" font-size="15.5" textLength="45.59" lengthAdjust="spacingAndGlyphs">−50.00</text><text x="1375.78" y="472" fill="#131722" font-size="15.5" textLength="37.47" lengthAdjust="spacingAndGlyphs">80.00</text><text x="1375.69" y="520" fill="#131722" font-size="15.5" textLength="37.56" lengthAdjust="spacingAndGlyphs">60.00</text><text x="1375.45" y="103" fill="#ffffff" font-size="15.5" textLength="53.54" lengthAdjust="spacingAndGlyphs" stroke="#ffffff" stroke-width="0.3">2741.15</text><text x="1375.66" y="403" fill="#ffffff" font-size="15.5" textLength="30.15" lengthAdjust="spacingAndGlyphs" stroke="#ffffff" stroke-width="0.3">0.09</text><text x="89.36" y="623" fill="#131722" font-size="15.5" textLength="23.87" lengthAdjust="spacingAndGlyphs" font-weight="bold">Oct</text><text x="236.39" y="623" fill="#131722" font-size="15.5" textLength="9.57" lengthAdjust="spacingAndGlyphs">4</text><text x="376.84" y="623" fill="#131722" font-size="15.5" textLength="9.31" lengthAdjust="spacingAndGlyphs">9</text><text x="512.63" y="623" fill="#131722" font-size="15.5" textLength="16.66" lengthAdjust="spacingAndGlyphs">14</text><text x="653.03" y="623" fill="#131722" font-size="15.5" textLength="16.73" lengthAdjust="spacingAndGlyphs">17</text><text x="793.47" y="623" fill="#131722" font-size="15.5" textLength="16.19" lengthAdjust="spacingAndGlyphs">22</text><text x="932.77" y="623" fill="#131722" font-size="15.5" textLength="16.11" lengthAdjust="spacingAndGlyphs">25</text><text x="1037.92" y="623" fill="#131722" font-size="15.5" textLength="37.83" lengthAdjust="spacingAndGlyphs">12:00</text><text x="1159.96" y="623" fill="#131722" font-size="15.5" textLength="26.45" lengthAdjust="spacingAndGlyphs" font-weight="bold">Nov</text><text x="1308.67" y="623" fill="#131722" font-size="15.5" textLength="9.57" lengthAdjust="spacingAndGlyphs">6</text><text x="41.26" y="663" fill="#131722" font-size="15.5" textLength="88.57" lengthAdjust="spacingAndGlyphs">TradingView</text><text x="1376.06" y="568" fill="#131722" font-size="15.5" textLength="37.18" lengthAdjust="spacingAndGlyphs">40.00</text><path d="M1366 539.5 H1417 Q1420 539.5 1420 542.5 V556.5 Q1420 559.5 1417 559.5 H1366 Z" fill="#7e57c2"/><text x="1375.96" y="554" fill="#ffffff" font-size="15.5" textLength="37.1" lengthAdjust="spacingAndGlyphs" stroke="#ffffff" stroke-width="0.3">45.72</text><g fill="#131722"><path d="M13.1 650.8 H22.9 V662.8 H17.9 V655.8 H13.1 Z"/><circle cx="26.8" cy="653.4" r="2.8"/><path d="M30.2 650.8 H37.4 L32.9 662.8 H27.0 Z"/></g></svg></body></html>
